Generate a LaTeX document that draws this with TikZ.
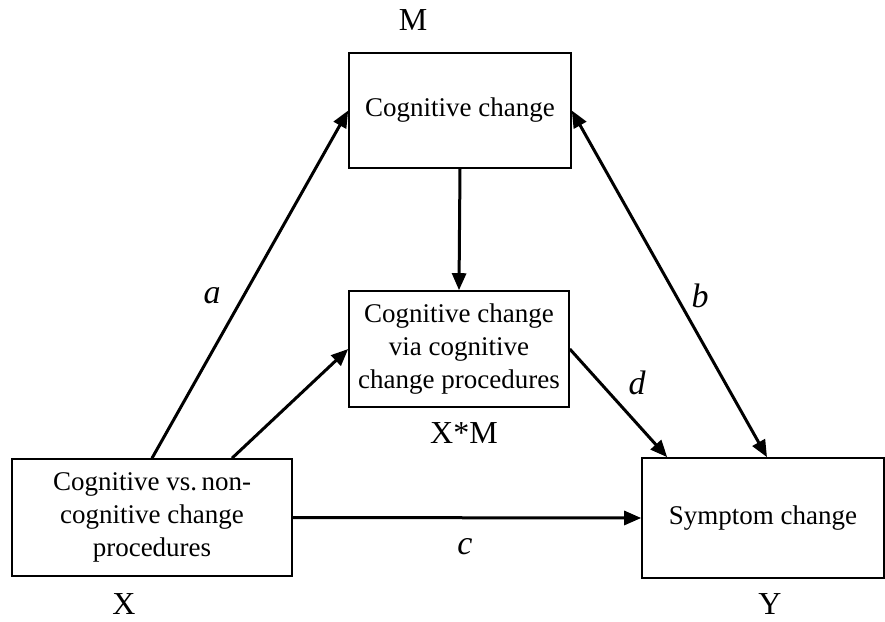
\documentclass[tikz,border=0pt]{standalone}
\usepackage{fontspec}
\setmainfont{Liberation Serif}
\usetikzlibrary{arrows.meta}

\begin{document}
\begin{tikzpicture}[x=0.5pt,y=-0.5pt,
    varbox/.style={draw, line width=0.8pt, align=center, inner sep=0pt,
      font=\fontsize{13.5}{16.5}\selectfont},
    path/.style={line width=1.5pt, -{Triangle[length=8.5pt,width=7pt]}},
    tag/.style={font=\fontsize{16}{18}\selectfont},
    coef/.style={font=\fontsize{17}{18}\selectfont\itshape}]
      \useasboundingbox (0,0) rectangle (885,622);
      % boxes
      \node [varbox, minimum width=111pt, minimum height=57.5pt] (M) at (460,110.5) {Cognitive change};
      \node [varbox, minimum width=110pt, minimum height=58pt] (XM) at (459,349) {Cognitive change\\via cognitive\\change procedures};
      \node [varbox, minimum width=140pt, minimum height=58.5pt] (X) at (152,517.5) {Cognitive vs.\,non-\\cognitive change\\procedures};
      \node [varbox, minimum width=121pt, minimum height=60pt] (Y) at (763,518) {Symptom change};
      % variable names
      \node [tag] (Mtag) at (413,20) {M};
      \node [tag] (XMtag) at (464,433) {X*M};
      \node [tag] (Xtag) at (124,604) {X};
      \node [tag] (Ytag) at (770,604) {Y};
      % paths
      \draw [path] (X.north) -- (M.west);
      \draw [path] ([xshift=40pt]X.north) -- (XM.west);
      \draw [path] (M.south) -- (XM.north);
      \draw [path, {Triangle[length=8.5pt,width=7pt]}-{Triangle[length=8.5pt,width=7pt]}] (M.east) -- ([xshift=2pt]Y.north);
      \draw [path] (XM.east) -- ([xshift=13pt]Y.north west);
      \draw [path] (X.east) -- (Y.west);
      % coefficients
      \node [coef] (a) at (212,296) {a};
      \node [coef] (b) at (700,296) {b};
      \node [coef] (c) at (465,547) {c};
      \node [coef] (d) at (637,383) {d};
    \end{tikzpicture}
\end{document}
